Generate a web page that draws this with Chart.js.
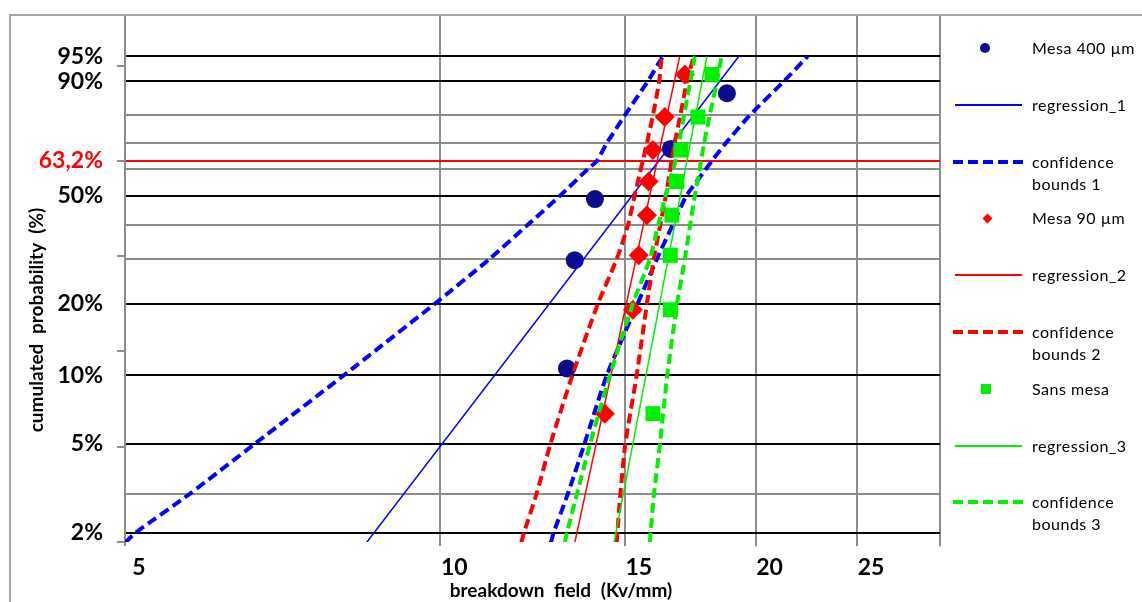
<!DOCTYPE html>
<html>
<head>
<meta charset="utf-8">
<script src="https://cdn.jsdelivr.net/npm/chart.js@4.4.1/dist/chart.umd.min.js"></script>
<style>
  html, body { margin: 0; padding: 0; background: #fff; }
  body { width: 1142px; height: 602px; position: relative; overflow: hidden; font-family: Lato, 'Open Sans', sans-serif; }
  #chart { position: absolute; left: 0; top: 0; }
  .frame { position: absolute; left: 9px; top: 14px; width: 1200px; height: 700px;
           border-left: 2px solid #a6a6a6; border-top: 2px solid #a6a6a6; pointer-events: none; }
  .axis-title { position: absolute; font-weight: 700; font-size: 19px; color: #000; white-space: nowrap; word-spacing: 5px; }
  #xTitle { left: 561px; top: 589px; transform: translate(-50%, -50%); }
  #yTitle { left: 35px; top: 320px; transform: translate(-50%, -50%) rotate(-90deg); }
  .leg-item { position: absolute; left: 940px; width: 202px; }
  .leg-text { position: absolute; left: 92px; top: 0; font-size: 16px; line-height: 22px; letter-spacing: 0.5px; color: #000; white-space: nowrap; }
  .leg-sample { position: absolute; top: 11px; }
</style>
</head>
<body>
<canvas id="chart" width="1142" height="602"></canvas>
<div class="frame"></div>
<div id="xTitle" class="axis-title">breakdown field (Kv/mm)</div>
<div id="yTitle" class="axis-title">cumulated probability (%)</div>
<div id="legend"></div>

<script>
/* Weibull plot of breakdown field — three sample groups with regression + confidence bounds */

// ── Data (x in Kv/mm, y as cumulated probability in %) ─────────────────────────
const MESA400_X = [13.21, 13.44, 14.05, 16.60, 18.78];
const MESA400_P = [10.7, 29.7, 48.8, 67.8, 86.9];

const MESA90_X = [14.36, 15.27, 15.47, 15.75, 15.81, 15.96, 16.38, 17.12];
const MESA90_P = [6.8, 18.9, 31.0, 43.2, 55.3, 67.4, 79.5, 91.6];

const SANS_X = [15.96, 16.58, 16.58, 16.64, 16.82, 16.97, 17.62, 18.17];
const SANS_P = [6.8, 18.9, 31.0, 43.2, 55.3, 67.4, 79.5, 91.6];

// regression lines: two end points each
const REG_P  = [1.8, 95];
const REG1_X = [8.50, 19.28];
const REG2_X = [13.44, 16.93];
const REG3_X = [14.65, 17.97];

// confidence bounds, read at these probability levels
const BOUND_P = [1.8, 2, 3, 5, 10, 20, 30, 40, 50, 60, 63.2, 70, 80, 90, 95];
const CB1_LO = [5.00, 5.12, 5.77, 6.65, 8.09, 9.88, 11.14, 12.12, 13.01, 13.83, 14.11, 14.42, 15.00, 15.78, 16.31];
const CB1_HI = [12.75, 12.83, 13.24, 13.73, 14.42, 15.43, 16.10, 16.67, 17.18, 17.93, 18.17, 18.73, 19.74, 21.28, 22.43];
const CB2_LO = [11.95, 12.02, 12.36, 12.74, 13.37, 14.14, 14.74, 15.11, 15.33, 15.54, 15.61, 15.75, 15.96, 16.18, 16.27];
const CB2_HI = [14.74, 14.76, 14.86, 15.02, 15.40, 15.75, 15.99, 16.22, 16.42, 16.58, 16.63, 16.74, 16.95, 17.20, 17.46];
const CB3_LO = [13.15, 13.21, 13.51, 13.90, 14.52, 15.27, 15.85, 16.15, 16.41, 16.69, 16.77, 16.90, 17.09, 17.33, 17.50];
const CB3_HI = [15.85, 15.88, 16.00, 16.21, 16.47, 16.83, 17.12, 17.32, 17.50, 17.69, 17.74, 17.86, 18.08, 18.37, 18.56];

// axes
const X_GRID   = [5, 10, 15, 20, 25, 30];
const X_LABELS = [5, 10, 15, 20, 25];
const Y_GRID_PCT  = [2, 3, 5, 10, 20, 30, 40, 50, 60, 63.2, 70, 80, 90, 95];
const Y_LABEL_PCT = [2, 5, 10, 20, 50, 63.2, 90, 95];
const Y_LABELS    = ['2%', '5%', '10%', '20%', '50%', '63,2%', '90%', '95%'];
const Y_MARKS     = [-4, -3, -2, -1, 0, 1];   // small outside ticks (weibull units)

const BLUE = '#0000ff', NAVY = '#0c0c8a', RED = '#ff0000', GREEN = '#00f000';
const GRID_GRAY = '#8c8c8c';

// ── helpers ───────────────────────────────────────────────────────────────────
const weib = p => (p === 63.2 ? 0 : Math.log(-Math.log(1 - p / 100)));
const pts = (xs, ps) => xs.map((x, i) => ({ x, y: weib(ps[i]) }));

function buildYTicks() {
  const ticks = Y_GRID_PCT.map(p => {
    const li = Y_LABEL_PCT.indexOf(p);
    return { value: weib(p), pct: p, text: li >= 0 ? Y_LABELS[li] : '', strong: li >= 0, mark: false };
  });
  Y_MARKS.forEach(m => {
    const hit = ticks.find(t => Math.abs(t.value - m) < 0.01);
    if (hit) hit.mark = true;
    else ticks.push({ value: m, pct: null, text: '', strong: false, mark: true });
  });
  return ticks.sort((a, b) => a.value - b.value);
}

// ── series (drawn in this order, later on top) ─────────────────────────────────
const SERIES = [
  { label: ['Mesa 400 µm'], kind: 'circle', color: NAVY, data: pts(MESA400_X, MESA400_P) },
  { label: ['regression_1'], kind: 'line', color: BLUE, data: pts(REG1_X, REG_P) },
  { label: ['confidence', 'bounds 1'], kind: 'dash', color: BLUE, data: pts(CB1_LO, BOUND_P), extra: pts(CB1_HI, BOUND_P) },
  { label: ['Mesa 90 µm'], kind: 'diamond', color: RED, data: pts(MESA90_X, MESA90_P) },
  { label: ['regression_2'], kind: 'line', color: RED, data: pts(REG2_X, REG_P) },
  { label: ['confidence', 'bounds 2'], kind: 'dash', color: RED, data: pts(CB2_LO, BOUND_P), extra: pts(CB2_HI, BOUND_P) },
  { label: ['Sans mesa'], kind: 'square', color: GREEN, data: pts(SANS_X, SANS_P) },
  { label: ['regression_3'], kind: 'line', color: GREEN, data: pts(REG3_X, REG_P) },
  { label: ['confidence', 'bounds 3'], kind: 'dash', color: GREEN, data: pts(CB3_LO, BOUND_P), extra: pts(CB3_HI, BOUND_P) },
];

function toDataset(s, data) {
  const base = { label: s.label.join(' '), data, borderColor: s.color, backgroundColor: s.color };
  if (s.kind === 'line') return { ...base, showLine: true, borderWidth: 1.5, pointRadius: 0 };
  if (s.kind === 'dash') return { ...base, showLine: true, borderWidth: 4, borderDash: [10, 5], pointRadius: 0, tension: 0.2 };
  const style = { circle: ['circle', 9], diamond: ['rectRot', 10], square: ['rect', 10.6] }[s.kind];
  return { ...base, showLine: false, pointStyle: style[0], pointRadius: style[1], borderWidth: 0 };
}

const datasets = [];
SERIES.forEach(s => {
  datasets.push(toDataset(s, s.data));
  if (s.extra) datasets.push(toDataset(s, s.extra));
});
datasets.forEach((d, i) => { d.order = datasets.length - i; });

// ── chart ─────────────────────────────────────────────────────────────────────
Chart.defaults.font.family = 'Lato, sans-serif';
const BOLD = { family: 'Lato, sans-serif', size: 23, weight: 'bold' };

new Chart(document.getElementById('chart'), {
  type: 'scatter',
  data: { datasets },
  options: {
    responsive: false,
    animation: false,
    layout: { padding: { left: 0, right: 202, top: 16, bottom: 0 } },
    plugins: { legend: { display: false }, tooltip: { enabled: false } },
    scales: {
      x: {
        type: 'logarithmic',
        min: 5, max: 30,
        afterBuildTicks: s => { s.ticks = X_GRID.map(v => ({ value: v })); },
        afterFit: s => { s.height = 60; s.paddingLeft = 0; s.paddingRight = 0; },
        border: { display: false },
        grid: { color: GRID_GRAY, lineWidth: 2, drawTicks: true, tickLength: 4, tickColor: GRID_GRAY },
        ticks: {
          autoSkip: false, maxRotation: 0, padding: 8, labelOffset: 14,
          color: '#000', font: BOLD,
          callback: v => (X_LABELS.includes(v) ? String(v) : ''),
        },
      },
      y: {
        type: 'linear',
        min: -4, max: 1.52,
        afterBuildTicks: s => { s.ticks = buildYTicks(); },
        afterFit: s => { s.width = 125; s.paddingTop = 0; s.paddingBottom = 0; },
        border: { display: true, color: GRID_GRAY, width: 2 },
        grid: {
          lineWidth: 2,
          color: c => {
            const t = c.tick;
            if (!t || t.pct === null) return 'rgba(0,0,0,0)';
            if (t.pct === 63.2) return RED;
            return t.strong ? '#000' : GRID_GRAY;
          },
          drawTicks: true, tickLength: 8, tickWidth: 2,
          tickColor: c => (c.tick && c.tick.mark ? GRID_GRAY : 'rgba(0,0,0,0)'),
        },
        ticks: {
          autoSkip: false, padding: 14, font: BOLD,
          color: c => (c.tick && c.tick.pct === 63.2 ? RED : '#000'),
          callback: (v, i, ticks) => ticks[i].text,
        },
      },
    },
  },
});

// ── HTML legend ───────────────────────────────────────────────────────────────
function sampleHtml(s) {
  if (s.kind === 'line')
    return `<span class="leg-sample" style="left:15px;width:67px;height:2px;margin-top:-1px;background:${s.color}"></span>`;
  if (s.kind === 'dash')
    return `<span class="leg-sample" style="left:13px;width:70px;height:4px;margin-top:-2px;background:repeating-linear-gradient(90deg,${s.color} 0 10px,transparent 10px 15px)"></span>`;
  if (s.kind === 'circle')
    return `<span class="leg-sample" style="left:40px;width:10px;height:10px;margin-top:-5px;border-radius:50%;background:${s.color}"></span>`;
  if (s.kind === 'diamond')
    return `<span class="leg-sample" style="left:44px;width:7px;height:7px;margin-top:-3.5px;transform:rotate(45deg);background:${s.color}"></span>`;
  return `<span class="leg-sample" style="left:41px;width:10px;height:10px;margin-top:-5px;background:${s.color}"></span>`;
}

document.getElementById('legend').innerHTML = SERIES.map((s, i) =>
  `<div class="leg-item" style="top:${(48 + i * 56.8 - 11).toFixed(1)}px">${sampleHtml(s)}<span class="leg-text">${s.label.join('<br>')}</span></div>`
).join('');
</script>
</body>
</html>
